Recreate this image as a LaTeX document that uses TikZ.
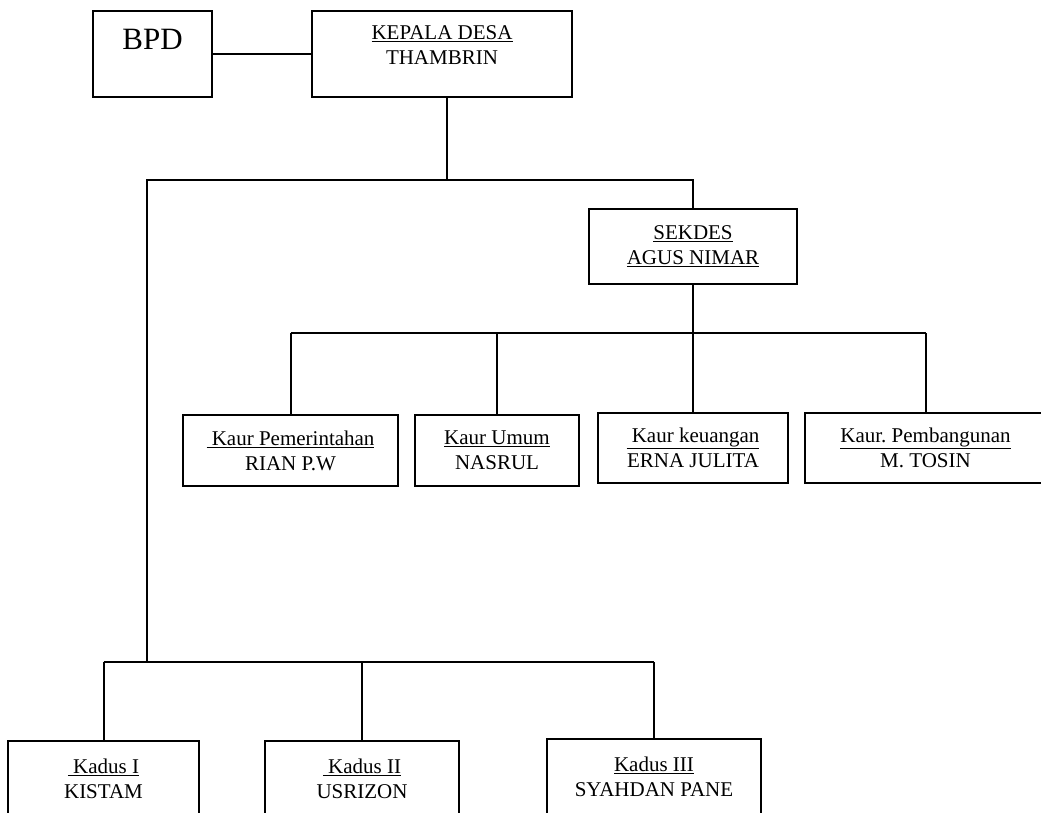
\documentclass[tikz,border=0pt]{standalone}
\usepackage{fontspec}
\setmainfont{Liberation Serif}
\tikzset{
  unit/.style={draw, line width=2pt, align=center, inner sep=0pt,
    minimum height=71pt, font=\fontsize{21}{25}\selectfont},
  toptext/.style={anchor=north, inner sep=0pt, align=center},
  link/.style={line width=2pt}
}
\begin{document}
\begin{tikzpicture}[x=1pt,y=-1pt]
  \useasboundingbox (0,0) rectangle (1041,812);
  \clip (0,0) rectangle (1041,812);
  \node[unit, minimum width=119pt, minimum height=86pt,
    label={[name=bpdT, toptext, font=\fontsize{31}{35}\selectfont, yshift=-19pt]north:BPD}] (bpd) at (152.5,54) {};
  \node[unit, minimum width=260pt, minimum height=86pt,
    label={[name=kadesT, toptext, font=\fontsize{21}{25}\selectfont, yshift=-15pt]north:\underline{KEPALA DESA}\\THAMBRIN}] (kades) at (442,54) {};
  \node[unit, minimum width=208pt, minimum height=75pt] (sekdes) at (693,246.5) {\underline{SEKDES}\\\underline{AGUS NIMAR}};
  \node[unit, minimum width=215pt] (kaur1) at (290.5,450.5) {\underline{\ Kaur Pemerintahan}\\RIAN P.W};
  \node[unit, minimum width=164pt] (kaur2) at (497,450.5) {\underline{Kaur Umum}\\NASRUL};
  \node[unit, minimum width=190pt, minimum height=70pt] (kaur3) at (693,448) {\underline{\ Kaur keuangan}\\ERNA JULITA};
  \node[unit, minimum width=241pt, minimum height=70pt] (kaur4) at (925.5,448) {\underline{Kaur.\ Pembangunan}\\M. TOSIN};
  \node[unit, minimum width=191pt, minimum height=76pt] (kadus1) at (103.5,779) {\underline{\ Kadus I}\\KISTAM};
  \node[unit, minimum width=194pt, minimum height=76pt] (kadus2) at (362,779) {\underline{\ Kadus II}\\USRIZON};
  \node[unit, minimum width=214pt, minimum height=76pt] (kadus3) at (654,777) {\underline{Kadus III}\\SYAHDAN PANE};
  \coordinate (split) at (447,180);
  \coordinate (trunkT) at (147,180);
  \coordinate (trunkB) at (147,662);
  \coordinate (barK) at (0,333);
  \draw[link] (bpd.east) -- (kades.west);
  \draw[link] (kades.south -| split) -- (split);
  \draw[link] (trunkB) -- (trunkT) -- (sekdes.north |- trunkT) -- (sekdes.north);
  \draw[link] (kaur1.north |- barK) -- (kaur4.north |- barK);
  \draw[link] (sekdes.south) -- (kaur3.north);
  \foreach \k in {kaur1,kaur2,kaur4}
    \draw[link] (\k.north |- barK) -- (\k.north);
  \draw[link] (kadus1.north |- trunkB) -- (kadus3.north |- trunkB);
  \foreach \k in {kadus1,kadus2,kadus3}
    \draw[link] (\k.north |- trunkB) -- (\k.north);
\end{tikzpicture}
\end{document}
